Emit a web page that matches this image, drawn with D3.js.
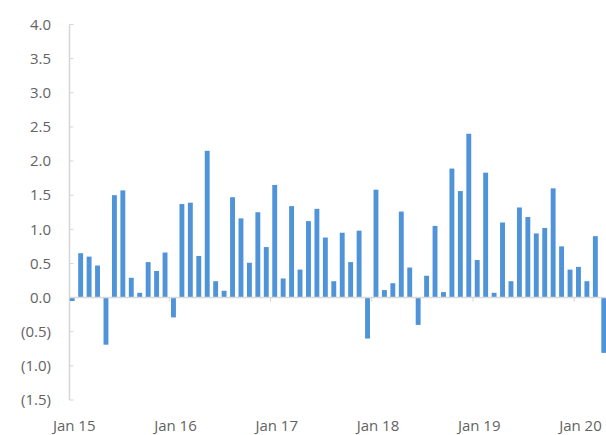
<!DOCTYPE html>
<html>
<head>
<meta charset="utf-8">
<script src="https://cdn.jsdelivr.net/npm/d3@7"></script>
<style>
	html, body { margin: 0; padding: 0; background: #fff; }
	svg { display: block; }
	.lbl { font-family: "Open Sans", "Noto Sans", sans-serif; font-size: 15px; fill: #636363; }
</style>
</head>
<body>
<div id="chart"></div>
<script>
// 月度数据，Jan 15 - Apr 20
const startMonth = '2015-01';
const yearLabels = ['Jan 15', 'Jan 16', 'Jan 17', 'Jan 18', 'Jan 19', 'Jan 20'];
const values2015 = [-0.05, 0.65, 0.60, 0.47, -0.69, 1.50, 1.57, 0.29, 0.07, 0.52, 0.39, 0.66];
const values2016 = [-0.29, 1.37, 1.39, 0.61, 2.15, 0.24, 0.10, 1.47, 1.16, 0.51, 1.25, 0.74];
const values2017 = [1.65, 0.28, 1.34, 0.41, 1.12, 1.30, 0.88, 0.24, 0.95, 0.52, 0.98, -0.60];
const values2018 = [1.58, 0.11, 0.21, 1.26, 0.44, -0.40, 0.32, 1.05, 0.08, 1.89, 1.56, 2.40];
const values2019 = [0.55, 1.83, 0.07, 1.10, 0.24, 1.32, 1.18, 0.94, 1.02, 1.60, 0.75, 0.41];
const values2020 = [0.45, 0.24, 0.90, -0.81];
const yTicks = [-1.5, -1.0, -0.5, 0, 0.5, 1.0, 1.5, 2.0, 2.5, 3.0, 3.5, 4.0];

var width = 606, height = 435;
var values = [].concat(values2015, values2016, values2017, values2018, values2019, values2020);
var t0 = d3.timeParse('%Y-%m')(startMonth);
var months = values.map((v, i) => d3.timeMonth.offset(t0, i));

var svg = d3.select('#chart').append('svg')
	.attr('width', width)
	.attr('height', height);

var x = d3.scaleBand()
	.domain(d3.range(values.length))
	.range([68, 608])
	.paddingInner(0.42)
	.paddingOuter(0.21);

var y = d3.scaleLinear()
	.domain([-1.5, 4])
	.range([400, 24.5]);

var fmt = d3.format('.1f');
function yLabel(d) {
	return d < 0 ? '(' + fmt(-d) + ')' : fmt(d);
}

// y 轴
var axisX = 69.5;
svg.append('line')
	.attr('x1', axisX).attr('x2', axisX)
	.attr('y1', y(4)).attr('y2', y(-1.5))
	.attr('stroke', '#d6d6d6').attr('stroke-width', 1.5);

var yg = svg.append('g');
yg.selectAll('line.tick').data(yTicks).enter().append('line')
	.attr('x1', axisX).attr('x2', axisX + 4)
	.attr('y1', d => y(d)).attr('y2', d => y(d))
	.attr('stroke', '#d6d6d6').attr('stroke-width', 1);
yg.selectAll('text').data(yTicks).enter().append('text')
	.attr('class', 'lbl')
	.attr('x', 51)
	.attr('y', d => y(d))
	.attr('dy', '0.35em')
	.attr('text-anchor', 'end')
	.text(yLabel);

// 柱子
svg.append('g').selectAll('rect').data(values).enter().append('rect')
	.attr('x', (d, i) => x(i))
	.attr('width', x.bandwidth())
	.attr('y', d => y(Math.max(0, d)))
	.attr('height', d => Math.abs(y(d) - y(0)))
	.attr('fill', '#4f93d8');

// 零线
svg.append('line')
	.attr('x1', axisX).attr('x2', width)
	.attr('y1', y(0)).attr('y2', y(0))
	.attr('stroke', '#d9d9d9').attr('stroke-width', 1.5);

// x 轴刻度，每年一月
var janIdx = months.map((m, i) => m.getMonth() === 0 ? i : -1).filter(i => i >= 0);
var step = x.step();
svg.append('g').selectAll('line').data(janIdx.slice(1)).enter().append('line')
	.attr('x1', i => x(i) + x.bandwidth() / 2 - step / 2)
	.attr('x2', i => x(i) + x.bandwidth() / 2 - step / 2)
	.attr('y1', y(0)).attr('y2', y(0) + 4)
	.attr('stroke', '#d6d6d6').attr('stroke-width', 1);

svg.append('g').selectAll('text').data(janIdx).enter().append('text')
	.attr('class', 'lbl')
	.attr('x', (i, k) => x(i) + x.bandwidth() / 2 + 2)
	.attr('y', 431)
	.attr('text-anchor', 'middle')
	.text((i, k) => yearLabels[k]);
</script>
</body>
</html>
